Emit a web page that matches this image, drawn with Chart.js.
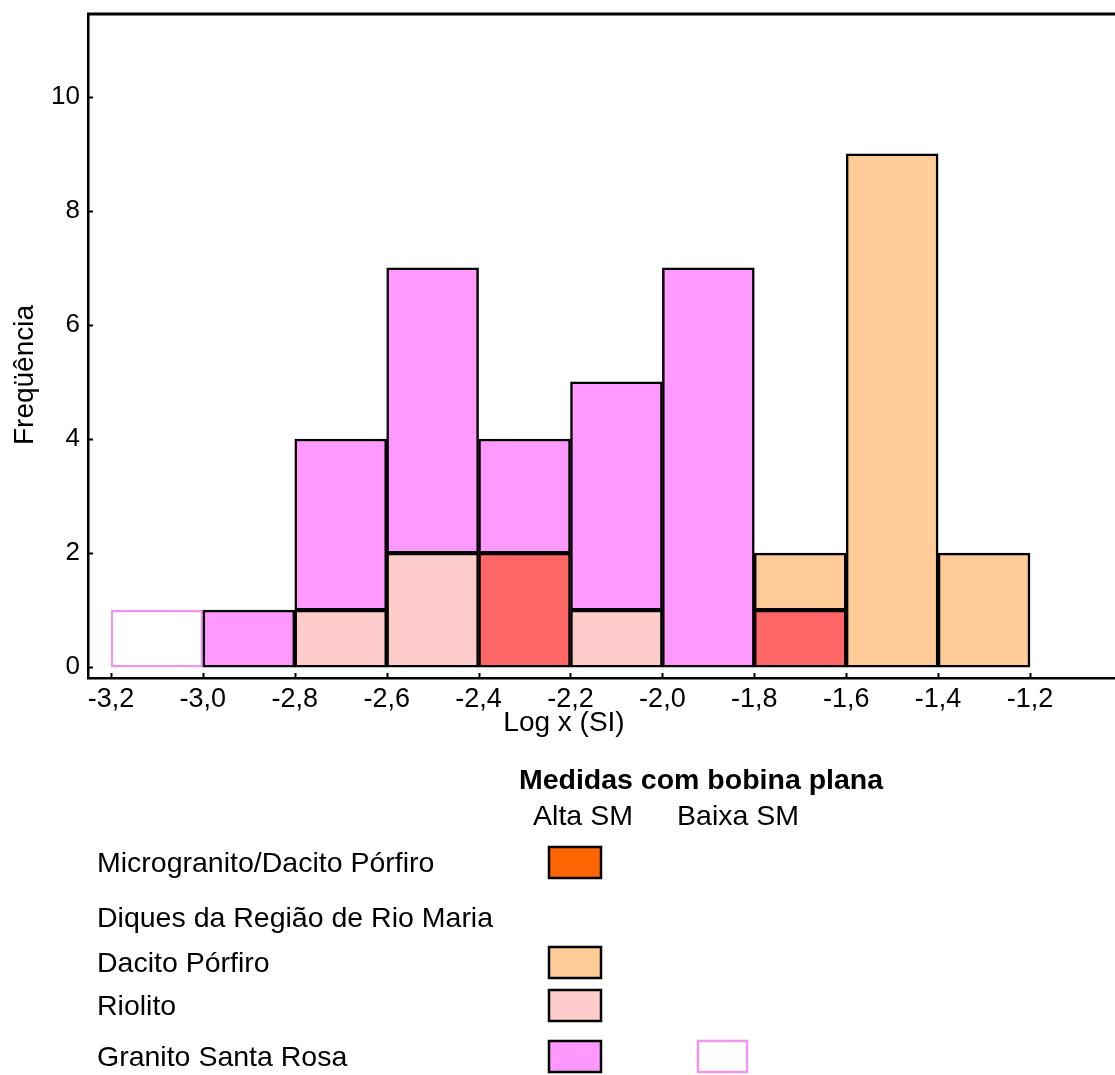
<!DOCTYPE html>
<html>
<head>
<meta charset="utf-8">
<script src="https://cdn.jsdelivr.net/npm/chart.js@4/dist/chart.umd.min.js"></script>
<style>
  html, body { margin: 0; padding: 0; background: #fff; }
  #wrap { width: 1115px; height: 1075px; }
</style>
</head>
<body>
<div id="wrap"><canvas id="chart" width="1115" height="1075"></canvas></div>
<script>
// histogram bins (left edges), width 0.2 in log x
const binStarts = [-3.2, -3.0, -2.8, -2.6, -2.4, -2.2, -2.0, -1.8, -1.6, -1.4];
const binWidth = 0.2;

// counts per bin, stacked bottom -> top
const microgranito = [0, 0, 0, 0, 2, 0, 0, 1, 0, 0];
const dacito       = [0, 0, 0, 0, 0, 0, 0, 1, 9, 2];
const riolito      = [0, 0, 1, 2, 0, 1, 0, 0, 0, 0];
const granitoAlta  = [0, 1, 3, 5, 2, 4, 7, 0, 0, 0];
const granitoBaixa = [1, 0, 0, 0, 0, 0, 0, 0, 0, 0];

const xTicks = [-3.2, -3.0, -2.8, -2.6, -2.4, -2.2, -2.0, -1.8, -1.6, -1.4, -1.2];
const yTicks = [0, 2, 4, 6, 8, 10];

const FONT = '"Liberation Sans", Arial, Helvetica, sans-serif';
const pinkLine = 'rgb(238,150,238)';
const microColor = '#ff6666';
const dacitoColor = '#ffcc99';
const riolitoColor = '#ffcccc';
const granitoColor = '#ff99ff';

function toPoints(counts) {
  // bar sits in the middle of its bin, skip empty bins
  return counts
    .map((v, i) => v ? { x: binStarts[i] + binWidth / 2, y: v } : null)
    .filter(p => p);
}

function barSet(label, counts, fill, line) {
  return {
    label: label,
    data: toPoints(counts),
    backgroundColor: fill,
    borderColor: line || '#000',
    borderWidth: 2.5,
    borderSkipped: false,
    barPercentage: 1,
    categoryPercentage: 1,
  };
}

// axis titles, inward tick marks, top frame and the custom legend
const decorations = {
  id: 'decorations',
  afterDraw(chart) {
    const ctx = chart.ctx;
    const area = chart.chartArea;
    const xs = chart.scales.x;
    const ys = chart.scales.y;
    ctx.save();

    ctx.strokeStyle = '#000';
    ctx.lineWidth = 3;
    ctx.beginPath();
    ctx.moveTo(area.left - 1, area.top);
    ctx.lineTo(area.right, area.top);
    ctx.stroke();

    ctx.lineWidth = 2;
    ctx.beginPath();
    yTicks.forEach(v => {
      const y = Math.round(ys.getPixelForValue(v)) + 0.5;
      ctx.moveTo(area.left, y);
      ctx.lineTo(area.left + 5, y);
    });
    xTicks.forEach(v => {
      const x = Math.round(xs.getPixelForValue(v)) + 0.5;
      ctx.moveTo(x, area.bottom);
      ctx.lineTo(x, area.bottom - 5);
    });
    ctx.stroke();

    ctx.fillStyle = '#000';
    ctx.font = '28px ' + FONT;
    ctx.textAlign = 'center';
    ctx.textBaseline = 'middle';
    ctx.fillText('Log x (SI)', 564, 723);

    ctx.save();
    ctx.translate(25, 375);
    ctx.rotate(-Math.PI / 2);
    ctx.fillText('Freqüência', 0, 0);
    ctx.restore();

    // legend block
    ctx.font = 'bold 28.5px ' + FONT;
    ctx.fillText('Medidas com bobina plana', 701, 781);
    ctx.font = '28.5px ' + FONT;
    ctx.fillText('Alta SM', 583, 817);
    ctx.fillText('Baixa SM', 738, 817);

    const rows = [
      { text: 'Microgranito/Dacito Pórfiro', y: 864, alta: '#ff6600' },
      { text: 'Diques da Região de Rio Maria', y: 919 },
      { text: 'Dacito Pórfiro', y: 964, alta: dacitoColor },
      { text: 'Riolito', y: 1007, alta: riolitoColor },
      { text: 'Granito Santa Rosa', y: 1058, alta: granitoColor, baixa: true },
    ];
    ctx.textAlign = 'left';
    rows.forEach(r => {
      ctx.fillStyle = '#000';
      ctx.fillText(r.text, 97, r.y);
      if (r.alta) {
        ctx.fillStyle = r.alta;
        ctx.fillRect(549, r.y - 17, 52, 31);
        ctx.strokeStyle = '#000';
        ctx.lineWidth = 2.5;
        ctx.strokeRect(549, r.y - 17, 52, 31);
      }
      if (r.baixa) {
        ctx.fillStyle = '#fff';
        ctx.fillRect(698, r.y - 17, 49, 31);
        ctx.strokeStyle = pinkLine;
        ctx.lineWidth = 2.5;
        ctx.strokeRect(698, r.y - 17, 49, 31);
      }
    });

    ctx.restore();
  }
};

new Chart(document.getElementById('chart'), {
  type: 'bar',
  data: {
    datasets: [
      barSet('Microgranito/Dacito Pórfiro', microgranito, microColor),
      barSet('Dacito Pórfiro', dacito, dacitoColor),
      barSet('Riolito', riolito, riolitoColor),
      barSet('Granito Santa Rosa (Alta SM)', granitoAlta, granitoColor),
      barSet('Granito Santa Rosa (Baixa SM)', granitoBaixa, '#ffffff', pinkLine),
    ],
  },
  options: {
    responsive: false,
    animation: false,
    layout: { padding: { top: 14, right: 0, bottom: 357, left: 0 } },
    plugins: {
      legend: { display: false },
      tooltip: { enabled: false },
    },
    scales: {
      x: {
        type: 'linear',
        stacked: true,
        offset: false,
        min: -3.25,
        max: -1.015,
        grid: { display: false, offset: false, drawTicks: false },
        border: { display: true, color: '#000', width: 2.5 },
        afterBuildTicks: scale => { scale.ticks = xTicks.map(v => ({ value: v })); },
        afterFit: scale => {
          scale.height = 40;
          scale.paddingLeft = 0;
          scale.paddingRight = 0;
        },
        ticks: {
          color: '#000',
          padding: 5,
          maxRotation: 0,
          autoSkip: false,
          font: { family: FONT, size: 27 },
          callback: v => v.toFixed(1).replace('.', ','),
        },
      },
      y: {
        stacked: true,
        min: -0.19,
        max: 11.45,
        grid: { display: false, drawTicks: false },
        border: { display: true, color: '#000', width: 2.5 },
        afterBuildTicks: scale => { scale.ticks = yTicks.map(v => ({ value: v })); },
        afterFit: scale => {
          scale.width = 88;
          scale.paddingTop = 0;
          scale.paddingBottom = 0;
        },
        ticks: {
          color: '#000',
          padding: 8,
          font: { family: FONT, size: 26 },
          callback: v => String(v),
        },
      },
    },
  },
  plugins: [decorations],
});
</script>
</body>
</html>
